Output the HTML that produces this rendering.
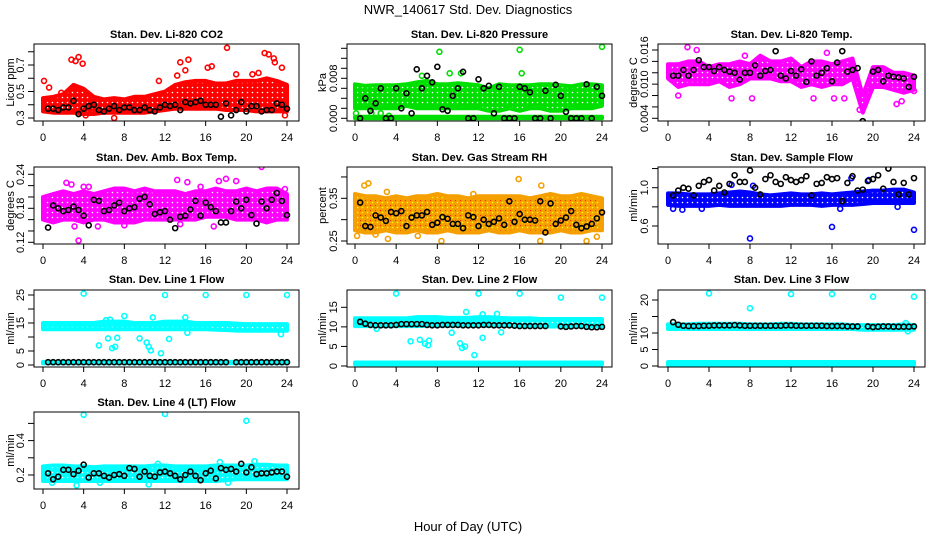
<!DOCTYPE html>
<html><head><meta charset="utf-8"><style>
html,body{margin:0;padding:0;background:#fff;}
svg{display:block;font-family:"Liberation Sans",sans-serif;}
</style></head><body>
<svg id="chart" width="936" height="540" viewBox="0 0 936 540">
<defs id="defs"></defs>
<text x="468" y="14" text-anchor="middle" font-size="13">NWR_140617  Std. Dev. Diagnostics</text>
<text x="468" y="531" text-anchor="middle" font-size="13">Hour of Day (UTC)</text>
</svg>
<script>
const hours = [0,1,2,3,4,5,6,7,8,9,10,11,12,13,14,15,16,17,18,19,20,21,22,23,24];
const xTicks = [0,4,8,12,16,20,24];

const co2Lo = [0.35,0.34,0.34,0.34,0.33,0.33,0.34,0.34,0.34,0.34,0.34,0.35,0.36,0.37,0.37,0.37,0.37,0.37,0.36,0.36,0.36,0.35,0.35,0.35,0.35];
const co2Hi = [0.45,0.46,0.48,0.55,0.52,0.46,0.44,0.45,0.44,0.46,0.46,0.48,0.50,0.55,0.57,0.58,0.58,0.56,0.56,0.58,0.58,0.58,0.60,0.58,0.55];
const co2Out = [[0.1,0.58],[2.8,0.74],[3.2,0.73],[3.5,0.76],[3.9,0.71],[13.5,0.72],[14.3,0.74],[16.2,0.68],[16.6,0.69],[18.1,0.83],[21.2,0.64],[21.8,0.79],[22.2,0.78],[22.7,0.75],[22.8,0.72],[23.5,0.68],[13.2,0.62],[14,0.66],[20.6,0.63],[19,0.63],[23.8,0.32],[7,0.3],[4.2,0.32],[0.6,0.53],[1.8,0.49],[11.4,0.58]];
const co2Black = [0.37,0.37,0.36,0.38,0.38,0.43,0.33,0.37,0.39,0.40,0.36,0.35,0.37,0.39,0.36,0.38,0.38,0.36,0.36,0.38,0.36,0.35,0.38,0.40,0.39,0.40,0.36,0.42,0.41,0.42,0.43,0.40,0.40,0.40,0.31,0.41,0.32,0.36,0.42,0.35,0.39,0.39,0.35,0.36,0.36,0.41,0.40,0.37];

const presLo = [0.002,0.002,0.002,0.002,0.002,0.0025,0.002,0.002,0.002,0.002,0.002,0.002,0.002,0.0015,0.0015,0.002,0.0015,0.002,0.002,0.0015,0.0015,0.002,0.002,0.002,0.0025];
const presHi = [0.0068,0.0065,0.0066,0.0066,0.0066,0.0068,0.0072,0.0075,0.0068,0.0068,0.007,0.0068,0.0066,0.006,0.0068,0.0066,0.0066,0.0066,0.0068,0.0068,0.0066,0.0064,0.0068,0.0068,0.0066];
const presZeroLo = [0,0,0,0,0,0,0,0,0,0,0,0,0,0,0,0,0,0,0,0,0,0,0,0,0];
const presZeroHi = [0.0003,0.0003,0.0003,0.0003,0.0003,0.0003,0.0003,0.0003,0.0003,0.0003,0.0003,0.0003,0.0003,0.0003,0.0003,0.0003,0.0003,0.0003,0.0003,0.0003,0.0003,0.0003,0.0003,0.0003,0.0003];
const presOut = [[8.2,0.0133],[16,0.0137],[24,0.0143],[16.2,0.009],[9.2,0.009],[10.3,0.009],[6.5,0.0085],[0.1,0.001],[1.6,0.001],[2.5,0.001],[3.3,0.0005]];
const presBlack = [0,0.004,0.0015,0.003,0.006,0,0,0.006,0.002,0.005,0.001,0.0098,0.006,0.0085,0.0072,0.0103,0.0018,0.0015,0.0045,0.006,0.0093,0,0,0.0078,0.006,0.0065,0.001,0.0063,0,0,0,0.0063,0.006,0.0052,0,0,0.0055,0,0.0067,0.0045,0.0013,0,0,0,0.0068,0,0.0063,0.0045];

const tempLo = [0.011,0.0095,0.010,0.010,0.010,0.0105,0.0095,0.010,0.011,0.011,0.011,0.0105,0.0105,0.0095,0.010,0.0095,0.010,0.010,0.011,0.005,0.0095,0.0095,0.009,0.0085,0.009];
const tempHi = [0.0135,0.0135,0.014,0.014,0.013,0.0135,0.0135,0.014,0.0135,0.015,0.014,0.014,0.0145,0.013,0.014,0.014,0.0135,0.014,0.0145,0.008,0.013,0.013,0.012,0.012,0.0115];
const tempOut = [[1.9,0.0165],[2.8,0.016],[7.5,0.015],[8.2,0.0075],[6.2,0.0075],[14.2,0.0075],[15.5,0.0155],[16.2,0.0075],[17.2,0.0075],[22.3,0.0065],[22.8,0.007],[24,0.0088],[1,0.008],[19.2,0.0085],[18.7,0.0055]];
const tempBlack = [0.0115,0.0115,0.0125,0.0115,0.0125,0.0142,0.013,0.013,0.0123,0.013,0.0125,0.0122,0.012,0.0108,0.012,0.012,0.0133,0.0115,0.0123,0.0125,0.0158,0.0115,0.011,0.0123,0.0115,0.0126,0.0104,0.014,0.0115,0.012,0.0128,0.0105,0.0138,0.0158,0.0122,0.0125,0.0128,0.0035,null,0.0122,0.0125,0.0105,0.0115,0.0113,0.0112,0.011,0.0095,0.0113];

const boxLo = [0.16,0.155,0.16,0.16,0.155,0.16,0.16,0.155,0.155,0.155,0.16,0.16,0.16,0.16,0.16,0.16,0.165,0.165,0.165,0.16,0.16,0.16,0.155,0.16,0.16];
const boxHi = [0.20,0.205,0.21,0.205,0.21,0.205,0.21,0.215,0.215,0.21,0.215,0.21,0.21,0.21,0.205,0.21,0.21,0.215,0.21,0.21,0.215,0.21,0.215,0.215,0.205];
const boxOut = [[2.3,0.225],[2.8,0.222],[3.5,0.123],[4,0.218],[4.5,0.218],[13.2,0.23],[14.2,0.226],[15.5,0.218],[17.3,0.228],[18,0.232],[19,0.228],[21.5,0.253],[23.8,0.214],[3.1,0.148],[5.4,0.148],[8,0.15],[13.5,0.152],[16.8,0.148]];
const boxBlack = [0.146,0.185,0.18,0.175,0.177,0.183,0.177,0.167,0.15,0.195,0.193,0.175,0.177,0.185,0.19,0.175,0.18,0.182,0.197,0.2,0.187,0.17,0.173,0.175,0.16,0.145,0.165,0.167,0.178,0.193,0.167,0.19,0.182,0.175,0.155,0.155,0.175,0.192,0.18,0.195,0.168,0.153,0.192,0.18,0.195,0.207,0.193,0.168];

const rhLo = [0.275,0.27,0.27,0.275,0.27,0.27,0.275,0.27,0.27,0.275,0.27,0.27,0.27,0.275,0.27,0.27,0.275,0.27,0.27,0.27,0.275,0.27,0.27,0.275,0.275];
const rhHi = [0.36,0.355,0.355,0.35,0.355,0.35,0.355,0.355,0.36,0.355,0.355,0.35,0.355,0.355,0.355,0.355,0.355,0.35,0.355,0.36,0.355,0.355,0.36,0.355,0.35];
const rhOut = [[0.9,0.38],[1.3,0.385],[3.1,0.365],[11.5,0.36],[15.9,0.395],[18.1,0.38],[2,0.265],[3.2,0.255],[8.4,0.25],[18,0.25],[22.5,0.25],[23.5,0.26],[0.2,0.262],[6.1,0.262]];
const rhBlack = [0.34,0.285,0.283,0.31,0.305,0.297,0.318,0.315,0.32,0.285,0.305,0.31,0.31,0.318,0.288,0.293,0.306,0.302,0.29,0.29,0.28,0.31,0.306,0.285,0.3,0.29,0.295,0.303,0.288,0.343,0.295,0.313,0.3,0.3,0.298,0.343,0.27,0.338,0.29,0.298,0.305,0.32,0.288,0.28,0.284,0.29,0.303,0.317];

const flowLo = [0.82,0.81,0.81,0.81,0.81,0.82,0.81,0.81,0.81,0.81,0.81,0.81,0.82,0.82,0.82,0.81,0.82,0.82,0.82,0.83,0.84,0.84,0.84,0.84,0.84];
const flowHi = [0.94,0.94,0.93,0.93,0.93,0.94,0.95,0.96,0.95,0.93,0.92,0.93,0.94,0.93,0.93,0.94,0.93,0.94,0.95,0.96,0.97,0.97,0.98,0.98,0.95];
const flowOut = [[8,0.47],[16,0.59],[24,0.56],[0.5,0.78],[1.4,0.77],[3.3,0.78],[16.8,0.78],[22.4,0.8],[17.9,1.1],[8.3,1.02],[6.2,1.03],[19.6,1.08]];
const flowBlack = [0.92,0.97,1.0,0.99,0.92,1.02,1.06,1.08,0.97,1.02,0.95,1.04,1.13,1.06,1.06,1.18,1.0,0.93,1.09,1.13,1.06,1.04,1.11,1.08,1.06,1.08,1.12,0.92,1.04,1.05,1.11,1.09,1.1,0.86,1.05,1.12,0.97,0.98,1.07,1.09,1.13,0.99,1.2,1.06,0.93,1.05,0.93,1.1];

const l1Lo = [12.8,12.8,12.8,12.8,12.8,12.8,12.8,12.8,12.8,12.8,12.8,12.8,12.8,12.8,12.8,12.8,12.8,12.6,12.5,12.3,12.2,12.2,12.2,12.2,12.2];
const l1Hi = [15,15,15,15,15,15,15.5,15.5,15.5,15,15,15,15.5,15.5,15.5,15,15,15,15,14.8,14.6,14.6,14.6,14.6,14.6];
const l1LowLo = [0.6,0.6,0.6,0.6,0.6,0.6,0.6,0.6,0.6,0.6,0.6,0.6,0.6,0.6,0.6,0.6,0.6,0.6,0.6,0.6,0.6,0.6,0.6,0.6,0.6];
const l1LowHi = [1.1,1.1,1.1,1.1,1.1,1.1,1.1,1.1,1.1,1.1,1.1,1.1,1.1,1.1,1.1,1.1,1.1,1.1,1.1,1.1,1.1,1.1,1.1,1.1,1.1];
const l1Out = [[4,25.5],[12,25],[16,25],[20,25],[24,25],[5.5,7],[6.4,9.5],[6.8,6],[7.1,6.5],[7.3,9.7],[8,17.5],[9.5,9.5],[10.2,8],[10.4,6.5],[10.6,5.2],[10.8,17],[11.6,4.2],[12.4,9.3],[14,17],[14.2,11.5],[23.4,11],[6.2,16],[6.6,16.2]];
const l1Black = [1,1,1,1,1,1,1,1,1,1,1,1,1,1,1,1,1,1,1,1,1,1,1,1,1,1,1,1,1,1,1,1,1,1,1,1,null,1,1,1,1,1,1,1,1,1,1,1];

const l2Lo = [10.2,10.2,10.2,10.2,10.2,10.2,10.2,10.3,10.3,10.3,10.3,10.3,10.3,10.3,10.3,10.3,10.2,10.2,10.2,10.1,10.1,10.1,10.1,10.1,10.1];
const l2Hi = [12.2,12.2,12.2,12.2,12.2,12.2,12.5,12.5,12.5,12.3,12.3,12.3,12.5,12.5,12.3,12.2,12.2,12.2,12.0,12.0,12.0,12.0,12.0,12.0,12.0];
const l2LowLo = [0.4,0.4,0.4,0.4,0.4,0.4,0.4,0.4,0.4,0.4,0.4,0.4,0.4,0.4,0.4,0.4,0.4,0.4,0.4,0.4,0.4,0.4,0.4,0.4,0.4];
const l2LowHi = [0.9,0.9,0.9,0.9,0.9,0.9,0.9,0.9,0.9,0.9,0.9,0.9,0.9,0.9,0.9,0.9,0.9,0.9,0.9,0.9,0.9,0.9,0.9,0.9,0.9];
const l2Out = [[4,18.5],[12,18.5],[16,18.5],[20,17.5],[24,17.5],[5.4,6.3],[6.3,6.7],[6.8,5.7],[7.1,5.3],[7.2,6.5],[9.4,8.5],[10.2,5.8],[10.4,4.6],[10.7,5],[10.8,13.8],[11.6,2.8],[12.4,7.2],[12.4,13.2],[14.2,8.6],[2.1,9.5],[13.8,13.3]];
const l2Black = [11.3,10.8,10.5,10.4,10.4,10.4,10.4,10.5,10.7,10.7,10.7,10.7,10.7,10.5,10.4,10.4,10.5,10.5,10.5,10.5,10.4,10.4,10.4,10.4,10.5,10.5,10.4,10.4,10.4,10.4,10.3,10.2,10.2,10.2,10.2,10.2,10.2,null,null,10.1,10.0,10.1,10.2,10.2,10.0,9.9,9.9,10.0];

const l3Lo = [11.2,11.2,11.2,11.2,11.2,11.2,11.2,11.2,11.2,11.2,11.2,11.2,11.2,11.2,11.2,11.2,11.2,11.2,11.2,11.0,11.0,11.0,11.0,11.0,11.0];
const l3Hi = [12.6,12.6,12.6,12.8,12.8,12.8,12.8,12.8,12.6,12.6,12.6,12.8,12.8,12.6,12.6,12.6,12.6,12.6,12.4,12.4,12.4,12.4,12.4,12.6,12.4];
const l3LowLo = [0.4,0.4,0.4,0.4,0.4,0.4,0.4,0.4,0.4,0.4,0.4,0.4,0.4,0.4,0.4,0.4,0.4,0.4,0.4,0.4,0.4,0.4,0.4,0.4,0.4];
const l3LowHi = [1.2,1.2,1.2,1.2,1.2,1.2,1.2,1.2,1.2,1.2,1.2,1.2,1.2,1.2,1.2,1.2,1.2,1.2,1.2,1.2,1.2,1.2,1.2,1.2,1.2];
const l3Out = [[4,22],[8,17.5],[12,21.8],[16,21.8],[20,21],[24,21],[23.4,10.5],[23.2,13]];
const l3Black = [13.3,12.5,12.2,12.1,12.1,12.1,12.2,12.2,12.3,12.3,12.3,12.3,12.4,12.3,12.2,12.2,12.2,12.2,12.2,12.2,12.2,12.2,12.3,12.3,12.2,12.2,12.2,12.2,12.2,12.2,12.1,12.1,12.1,12.1,12.0,12.0,12.0,null,12.0,11.8,11.9,12.0,12.0,11.9,11.9,11.9,11.9,12.0];

const l4Lo = [0.165,0.165,0.165,0.165,0.165,0.165,0.165,0.165,0.165,0.165,0.165,0.165,0.165,0.165,0.165,0.165,0.165,0.165,0.17,0.175,0.175,0.175,0.175,0.175,0.175];
const l4Hi = [0.25,0.255,0.255,0.25,0.25,0.245,0.25,0.25,0.25,0.25,0.25,0.255,0.255,0.25,0.25,0.25,0.25,0.255,0.255,0.255,0.255,0.26,0.26,0.255,0.255];
const l4Out = [[4,0.55],[12,0.555],[20,0.515],[3.3,0.14],[10.4,0.145],[11.3,0.265],[17.4,0.275],[20.8,0.28],[0.9,0.155],[5.6,0.155],[18.2,0.155]];
const l4Black = [0.21,0.175,0.19,0.23,0.23,0.205,0.225,0.26,0.185,0.21,0.21,0.195,0.185,0.2,0.205,0.195,0.24,0.235,0.19,0.22,0.195,0.19,0.215,0.22,0.21,0.195,0.175,0.2,0.22,0.195,0.17,0.21,0.225,0.18,0.24,0.23,0.235,0.22,0.265,0.215,0.245,0.205,0.21,0.21,0.215,0.22,0.22,0.19];

const cols = [{l:34,r:299,x0:43,x24:287,ylab:10,tl:24},{l:347,r:612,x0:355,x24:602,ylab:322,tl:337},{l:658,r:925,x0:668,x24:914,ylab:633,tl:648}];
const rows = [{t:44,b:121,title:34},{t:167,b:244,title:157},{t:290,b:367,title:279},{t:412,b:489,title:402}];

const panels = [
 {name:'co2',title:'Stan. Dev. Li-820 CO2',ylab:'Licor ppm',c:0,r:0,col:'#ff0000',cal:[0.3,118,0.7,65],ticks:[0.3,0.4,0.5,0.6,0.7,0.8],labels:['0.3','0.5','0.7'],lv:[0.3,0.5,0.7],bands:[[co2Lo,co2Hi]],out:co2Out,blk:co2Black},
 {name:'pressure',title:'Stan. Dev. Li-820 Pressure',ylab:'kPa',c:1,r:0,col:'#00e000',cal:[0,118.3,0.008,78.3],ticks:[0,0.002,0.004,0.006,0.008,0.010,0.012,0.014],labels:['0.000','0.008'],lv:[0,0.008],bands:[[presLo,presHi],[presZeroLo,presZeroHi]],out:presOut,blk:presBlack},
 {name:'temp',title:'Stan. Dev. Li-820 Temp.',ylab:'degrees C',c:2,r:0,col:'#ff00ff',cal:[0.004,118.3,0.016,50],ticks:[0.004,0.006,0.008,0.010,0.012,0.014,0.016],labels:['0.004','0.010','0.016'],lv:[0.004,0.010,0.016],bands:[[tempLo,tempHi]],out:tempOut,blk:tempBlack},
 {name:'amb-box-temp',title:'Stan. Dev. Amb. Box Temp.',ylab:'degrees C',c:0,r:1,col:'#ff00ff',cal:[0.12,242.3,0.24,174.3],ticks:[0.12,0.14,0.16,0.18,0.20,0.22,0.24],labels:['0.12','0.18','0.24'],lv:[0.12,0.18,0.24],bands:[[boxLo,boxHi]],out:boxOut,blk:boxBlack},
 {name:'gas-rh',title:'Stan. Dev. Gas Stream RH',ylab:'percent',c:1,r:1,col:'#f5a000',cal:[0.25,241,0.35,198.3],ticks:[0.25,0.30,0.35,0.40],labels:['0.25','0.35'],lv:[0.25,0.35],bands:[[rhLo,rhHi]],out:rhOut,blk:rhBlack,rh:true},
 {name:'sample-flow',title:'Stan. Dev. Sample Flow',ylab:'ml/min',c:2,r:1,col:'#0000ff',cal:[0.6,226,1.0,187.7],ticks:[0.6,0.8,1.0,1.2],labels:['0.6','1.0'],lv:[0.6,1.0],bands:[[flowLo,flowHi]],out:flowOut,blk:flowBlack},
 {name:'line1-flow',title:'Stan. Dev. Line 1 Flow',ylab:'ml/min',c:0,r:2,col:'#00ffff',cal:[0,365,25,295],ticks:[0,5,10,15,20,25],labels:['0','5','15','25'],lv:[0,5,15,25],bands:[[l1Lo,l1Hi],[l1LowLo,l1LowHi]],out:l1Out,blk:l1Black},
 {name:'line2-flow',title:'Stan. Dev. Line 2 Flow',ylab:'ml/min',c:1,r:2,col:'#00ffff',cal:[0,366,15,307.3],ticks:[0,5,10,15],labels:['0','5','10','15'],lv:[0,5,10,15],bands:[[l2Lo,l2Hi],[l2LowLo,l2LowHi]],out:l2Out,blk:l2Black},
 {name:'line3-flow',title:'Stan. Dev. Line 3 Flow',ylab:'ml/min',c:2,r:2,col:'#00ffff',cal:[0,366,20,300],ticks:[0,5,10,15,20],labels:['0','5','10','20'],lv:[0,5,10,20],bands:[[l3Lo,l3Hi],[l3LowLo,l3LowHi]],out:l3Out,blk:l3Black},
 {name:'line4-flow',title:'Stan. Dev. Line 4 (LT) Flow',ylab:'ml/min',c:0,r:3,col:'#00ffff',cal:[0.2,475,0.4,440.6],ticks:[0.2,0.3,0.4,0.5],labels:['0.2','0.4'],lv:[0.2,0.4],bands:[[l4Lo,l4Hi]],out:l4Out,blk:l4Black}
];

const NS='http://www.w3.org/2000/svg';
const svg=document.getElementById('chart');
const defs=document.getElementById('defs');
function mk(tag,attrs,parent){const e=document.createElementNS(NS,tag);for(const k in attrs)e.setAttribute(k,attrs[k]);(parent||svg).appendChild(e);return e;}

panels.forEach(p=>{
  const C=cols[p.c],R=rows[p.r];
  const xs=h=>C.x0+(C.x24-C.x0)*h/24;
  const ys=v=>p.cal[1]+(v-p.cal[0])*(p.cal[3]-p.cal[1])/(p.cal[2]-p.cal[0]);
  // texture pattern: colored with small white holes
  const pat=mk('pattern',{id:'pat-'+p.name,width:5,height:5,patternUnits:'userSpaceOnUse'},defs);
  mk('rect',{x:0,y:0,width:5,height:5,fill:p.col},pat);
  mk('circle',{cx:2.5,cy:2.5,r:0.8,fill:p.rh?'#ffff00':'#ffffff'},pat);
  if(p.rh) mk('circle',{cx:0.5,cy:0.5,r:0.6,fill:'#ff2000'},pat);
  const g=mk('g',{});
  
  
  const clip=mk('clipPath',{id:'clip-'+p.name},g);
  mk('rect',{x:C.l,y:R.t,width:C.r-C.l,height:R.b-R.t},clip);
  const plot=mk('g',{'clip-path':'url(#clip-'+p.name+')'},g);
  p.bands.forEach((b,bi)=>{
    let d='';
    hours.forEach((h,i)=>{d+=(i?'L':'M')+xs(h).toFixed(1)+','+ys(b[1][i]).toFixed(1);});
    for(let i=hours.length-1;i>=0;i--)d+='L'+xs(hours[i]).toFixed(1)+','+ys(b[0][i]).toFixed(1);
    d+='Z';
    const band=mk('path',{d:d,fill:'url(#pat-'+p.name+')',stroke:p.col,'stroke-width':4,'stroke-linejoin':'round'},plot);
    
    
  });
  p.out.forEach(o=>{
    const c=mk('circle',{cx:xs(o[0]),cy:ys(o[1]),r:2.5,fill:'none',stroke:p.col,'stroke-width':1.6},plot);
    
    
  });
  const n=p.blk.length;
  p.blk.forEach((v,i)=>{
    if(v===null)return;
    const h=0.5+i*23.5/(n-1);
    const c=mk('circle',{cx:xs(h),cy:ys(v),r:2.5,fill:'none',stroke:'#000','stroke-width':1.6},plot);
    
    
  });
  const bx=mk('rect',{x:C.l,y:R.t,width:C.r-C.l,height:R.b-R.t,fill:'none',stroke:'#000','stroke-width':1},g);
  
  
  xTicks.forEach(t=>{
    mk('line',{x1:xs(t),x2:xs(t),y1:R.b,y2:R.b+5,stroke:'#000'},g);
    const tx=mk('text',{x:xs(t),y:R.b+20,'text-anchor':'middle','font-size':11},g);
    tx.textContent=t;
    
    
  });
  p.ticks.forEach(t=>{mk('line',{x1:C.l-6,x2:C.l,y1:ys(t),y2:ys(t),stroke:'#000'},g);});
  p.labels.forEach((l,i)=>{
    const y=ys(p.lv[i]);
    const tx=mk('text',{x:C.tl,y:y,transform:'rotate(-90 '+C.tl+' '+y+')','text-anchor':'middle','font-size':11},g);
    tx.textContent=l;
    
    
  });
  const my=(R.t+R.b)/2;
  const yl=mk('text',{x:C.ylab+4,y:my,transform:'rotate(-90 '+(C.ylab+4)+' '+my+')','text-anchor':'middle','font-size':11},g);
  yl.textContent=p.ylab;
  
  
  const tt=mk('text',{x:(C.l+C.r)/2,y:R.title+4,'text-anchor':'middle','font-size':11,'font-weight':'bold'},g);
  tt.textContent=p.title;
  
  
});
</script>
</body></html>
